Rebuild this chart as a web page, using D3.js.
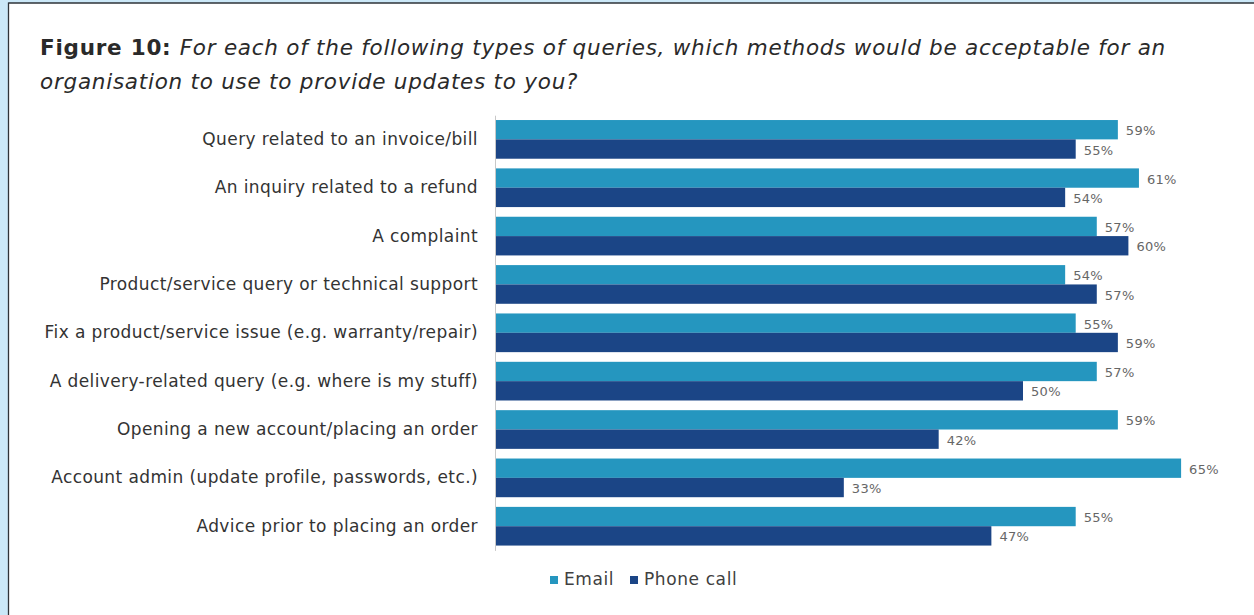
<!DOCTYPE html>
<html>
<head>
<meta charset="utf-8">
<script src="https://cdn.jsdelivr.net/npm/d3@7"></script>
<style>
  html, body { margin: 0; padding: 0; background: #fff; }
  svg { display: block; }
</style>
</head>
<body>
<svg id="chart" width="1254" height="615"></svg>
<script>
// Query types, top to bottom
const categories = [
  "Query related to an invoice/bill",
  "An inquiry related to a refund",
  "A complaint",
  "Product/service query or technical support",
  "Fix a product/service issue (e.g. warranty/repair)",
  "A delivery-related query (e.g. where is my stuff)",
  "Opening a new account/placing an order",
  "Account admin (update profile, passwords, etc.)",
  "Advice prior to placing an order"
];
const seriesNames = ["Email", "Phone call"];
const emailValues = [59, 61, 57, 54, 55, 57, 59, 65, 55];
const phoneValues = [55, 54, 60, 57, 59, 50, 42, 33, 47];

const colors = { "Email": "#2596bf", "Phone call": "#1b4586" };
const font = "'DejaVu Sans', sans-serif";

const svg = d3.select("#chart");

// page frame: pale blue margin with a dark rule
svg.append("rect").attr("x", 0).attr("y", 0).attr("width", 1254).attr("height", 615).attr("fill", "#cbe8f8");
svg.append("rect").attr("x", 9).attr("y", 3).attr("width", 1245).attr("height", 612).attr("fill", "#fff");
svg.append("line").attr("x1", 8.5).attr("x2", 8.5).attr("y1", 2.5).attr("y2", 615).attr("stroke", "#2e3338").attr("stroke-width", 1.3);
svg.append("line").attr("x1", 8.5).attr("x2", 1254).attr("y1", 3).attr("y2", 3).attr("stroke", "#2e3338").attr("stroke-width", 1.3);

// title
const title = svg.append("text").attr("x", 40).attr("y", 55)
  .attr("font-family", font).attr("font-size", 21.5).attr("letter-spacing", 0.75).attr("fill", "#2a2a2a");
title.append("tspan").attr("font-weight", "bold").text("Figure 10: ");
title.append("tspan").attr("font-style", "italic")
  .text("For each of the following types of queries, which methods would be acceptable for an");
svg.append("text").attr("x", 40).attr("y", 89)
  .attr("font-family", font).attr("font-size", 21.5).attr("letter-spacing", 0.75)
  .attr("font-style", "italic").attr("fill", "#2a2a2a")
  .text("organisation to use to provide updates to you?");

// scales
const y = d3.scaleBand().domain(categories).range([115.2, 550.4]).paddingInner(0.2).paddingOuter(0.1);
const ySub = d3.scaleBand().domain(seriesNames).range([0, y.bandwidth()]);
const x = d3.scaleLinear().domain([0, 100]).range([496, 496 + 1054]);

const rows = categories.map((c, i) => ({
  cat: c,
  vals: [
    { s: "Email", v: emailValues[i] },
    { s: "Phone call", v: phoneValues[i] }
  ]
}));

// category axis
const yAxis = d3.axisLeft(y).tickSize(0).tickPadding(17);
const gy = svg.append("g").attr("transform", `translate(${x(0) - 1},0)`).call(yAxis);
gy.select(".domain").attr("stroke", "#c8c8c8");
gy.selectAll("text").attr("font-family", font).attr("font-size", 17)
  .attr("letter-spacing", 0.4).attr("fill", "#333");

// bars
const groups = svg.append("g").selectAll("g").data(rows).join("g")
  .attr("transform", d => `translate(0,${y(d.cat)})`);

groups.selectAll("rect").data(d => d.vals).join("rect")
  .attr("x", x(0))
  .attr("y", d => ySub(d.s))
  .attr("width", d => x(d.v) - x(0))
  .attr("height", ySub.bandwidth())
  .attr("fill", d => colors[d.s]);

groups.selectAll("text.val").data(d => d.vals).join("text")
  .attr("class", "val")
  .attr("x", d => x(d.v) + 8)
  .attr("y", d => ySub(d.s) + ySub.bandwidth() / 2 + 2)
  .attr("dominant-baseline", "middle")
  .attr("font-family", font).attr("font-size", 13).attr("letter-spacing", 0.3).attr("fill", "#666")
  .text(d => d.v + "%");

// legend
const legend = svg.append("g").attr("transform", "translate(550,580)");
const legendX = [0, 80];
seriesNames.forEach((s, i) => {
  const g = legend.append("g").attr("transform", `translate(${legendX[i]},0)`);
  g.append("rect").attr("x", 0).attr("y", -4).attr("width", 8).attr("height", 8).attr("fill", colors[s]);
  g.append("text").attr("x", 14).attr("y", 0).attr("dominant-baseline", "middle")
    .attr("font-family", font).attr("font-size", 17).attr("letter-spacing", 0.6)
    .attr("fill", "#404040").text(s);
});
</script>
</body>
</html>
